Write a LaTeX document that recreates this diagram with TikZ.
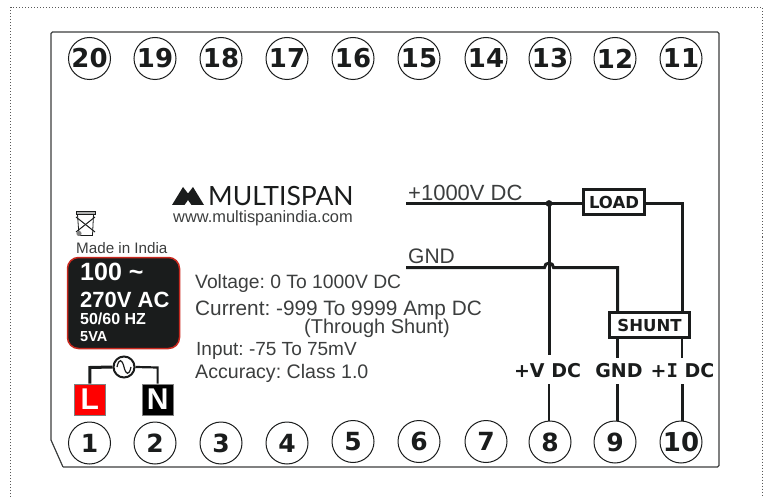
\documentclass[tikz,border=0pt]{standalone}
\usepackage{fontspec}
\setmainfont{Liberation Sans}
\newfontfamily\djv{DejaVu Sans}
\newfontfamily\djm{DejaVu Sans Mono}
\newfontfamily\lat{Lato}
\newcommand{\fsz}[1]{\fontsize{#1}{#1}\selectfont}
\definecolor{ink}{HTML}{1A1C1C}
\definecolor{redb}{HTML}{C8281E}
\frenchspacing
\tikzset{
  term/.style={circle,draw=ink,line width=1pt,minimum size=42pt,inner sep=0pt,font=\djv\bfseries\fsz{25},text=ink},
  termb/.style={term,font=\djv\bfseries\fsz{26}},
  wire/.style={draw=ink,line width=3pt},
  wirethin/.style={draw=ink,line width=2.2pt},
  plabel/.style={inner sep=0pt,anchor=west,text=ink!85!white},
  boxed/.style={draw=ink,line width=2.2pt,fill=white,inner sep=0pt,font=\djv\bfseries\fsz{16.5},text=ink},
  lbl/.style={inner sep=0pt,font=\djv\bfseries\fsz{19},text=ink},
  blk/.style={inner sep=0pt,anchor=west,text=white,font=\bfseries},
  ln/.style={draw=gray,line width=1pt,inner sep=0pt,font=\bfseries\fsz{30},text=white,minimum width=31pt,minimum height=31pt}
}
\begin{document}
\begin{tikzpicture}[x=1pt,y=-1pt]
\useasboundingbox (0,0) rectangle (768,497);
% dotted frame
\draw[gray!70!black,line width=1pt,dotted] (10.5,497) -- (10.5,7.5) -- (762,7.5) -- (762,497);
% housing
\draw[ink!85!white,line width=1.2pt,rounded corners=1.5pt] (51,440) -- (51,32) -- (719,32) -- (719,467) -- (63,467) ;
\draw[ink!85!white,line width=1.2pt] (51,440) -- (63,467);
% terminals
\foreach \n/\x in {20/89.5,19/155,18/221,17/287,16/353,15/419,14/486,13/550,12/615,11/681}
  \node[termb] (t\n) at (\x,58.5) {\n};
\foreach \n/\x/\y in {1/89.5/443,2/155/443,3/221/443,4/287/443,5/353/441.5,6/419/441.5,7/486/441.5,8/550/442,9/615/442}
  \node[term] (t\n) at (\x,\y) {\n};
\node[termb] (t10) at (681,442) {10};
% logo
\fill[ink] (172,205) -- (183,187) -- (188,193.5) -- (193,187) -- (204,205) -- (191.5,205) -- (188,200) -- (184.5,205) -- cycle;
\node[inner sep=0pt,anchor=west,text=ink,font=\lat\fsz{26.5}] (logo) at (208,196) {MULTISPAN};
\node[inner sep=0pt,anchor=west,text=ink!85!white,font=\fsz{16.4}] (web) at (173,218) {www.multispanindia.com};
% bin
\begin{scope}[draw=ink,line width=0.8pt]
\draw[fill=gray!60] (76,211.5) rectangle (95,214.5);
\draw (77.5,214.5) -- (79,235.5) -- (92.5,235.5) -- (93.5,214.5);
\draw[line width=1pt] (76,217) -- (95,232);
\draw[line width=1pt] (95,217) -- (76,232);
\fill[gray] (79,233.5) circle (2.6pt);
\end{scope}
\node[inner sep=0pt,anchor=west,text=ink!85!white,font=\fsz{15.2}] (made) at (76,248) {Made in India};
% supply badge
\node[draw=redb,line width=1.5pt,fill=ink,rounded corners=11pt,minimum width=112pt,minimum height=91pt,inner sep=0pt] (badge) at (123.5,303) {};
\node[blk,font=\bfseries\fsz{25}] (b1) at (80,272) {100 \textasciitilde};
\node[blk,font=\bfseries\fsz{22}] (b2) at (80,299.5) {270V AC};
\node[blk,font=\bfseries\fsz{16}] (b3) at (80,319) {50/60 HZ};
\node[blk,font=\bfseries\fsz{14.5}] (b4) at (80,337) {5VA};
% L N
\node[ln,fill=red] (L) at (89.8,399.5) {L};
\node[ln,fill=black] (N) at (157.6,399.5) {N};
\node[circle,draw=ink,line width=2pt,minimum size=21pt,inner sep=0pt] (ac) at (124,367) {};
\draw[ink,line width=1.2pt] (117,367) .. controls (119,358) and (122,359) .. (124,367) .. controls (126,375) and (129,376) .. (131,367);
\draw[wire] (L.north) -- (89.8,367.5) -- (ac.west);
\draw[wirethin] (N.north) -- (157.6,367.5) -- (ac.east);
% specs
\node[plabel,font=\fsz{19.3}] (s1) at (195,283.5) {Voltage: 0 To 1000V DC};
\node[plabel,font=\fsz{20.8}] (s2) at (195,310.5) {Current: -999 To 9999 Amp DC};
\node[plabel,font=\fsz{20}] (s3) at (304,328.5) {(Through Shunt)};
\node[plabel,font=\fsz{19}] (s4) at (196,350.5) {Input: -75 To 75mV};
\node[plabel,font=\fsz{19.6}] (s5) at (195,373.5) {Accuracy: Class 1.0};
% wiring
\node[boxed,minimum width=61pt,minimum height=25pt] (load) at (614,202) {LOAD};
\node[boxed,minimum width=80pt,minimum height=25pt] (shunt) at (649.5,325) {SHUNT};
\coordinate (vin) at (406,203.5);
\coordinate (gin) at (406,267.5);
\coordinate (j1) at (549,203.5);
\coordinate (h1) at (544.5,267.5);
\coordinate (gc) at (617.5,267.5);
\coordinate (sg) at (617.5,312);
\coordinate (lc) at (682,203.5);
\coordinate (si) at (682,312);
\node[lbl] (lv) at (547.5,371) {+V DC};
\node[lbl] (lg) at (619,371) {GND};
\node[lbl] (li) at (682.5,371) {+{\djm I} DC};
\draw[wire] (vin) -- (load.west |- vin);
\draw[wire] (load.east |- lc) -- (lc) -- (si);
\draw[wire] (gin) -- (h1) arc[start angle=180,end angle=0,radius=4.5pt] -- (gc) -- (sg);
\draw[wire] (j1) -- (549,355);
\draw[wirethin] (549,384) -- (t8.north -| 549,0);
\draw[wirethin] (617.5,338) -- (617.5,358);
\draw[wirethin] (617.5,384) -- (t9.north -| 617.5,0);
\draw[wirethin] (682,338) -- (682,358);
\draw[wire] (682,384) -- (t10.north -| 682,0);
\fill[ink] (j1) circle (3.4pt);
% top texts
\node[inner sep=0pt,anchor=west,text=ink!85!white,font=\fsz{22}] (v) at (408,193) {+1000V DC};
\node[inner sep=0pt,anchor=west,text=ink!85!white,font=\fsz{21}] (g) at (408,256.5) {GND};
\end{tikzpicture}
\end{document}
